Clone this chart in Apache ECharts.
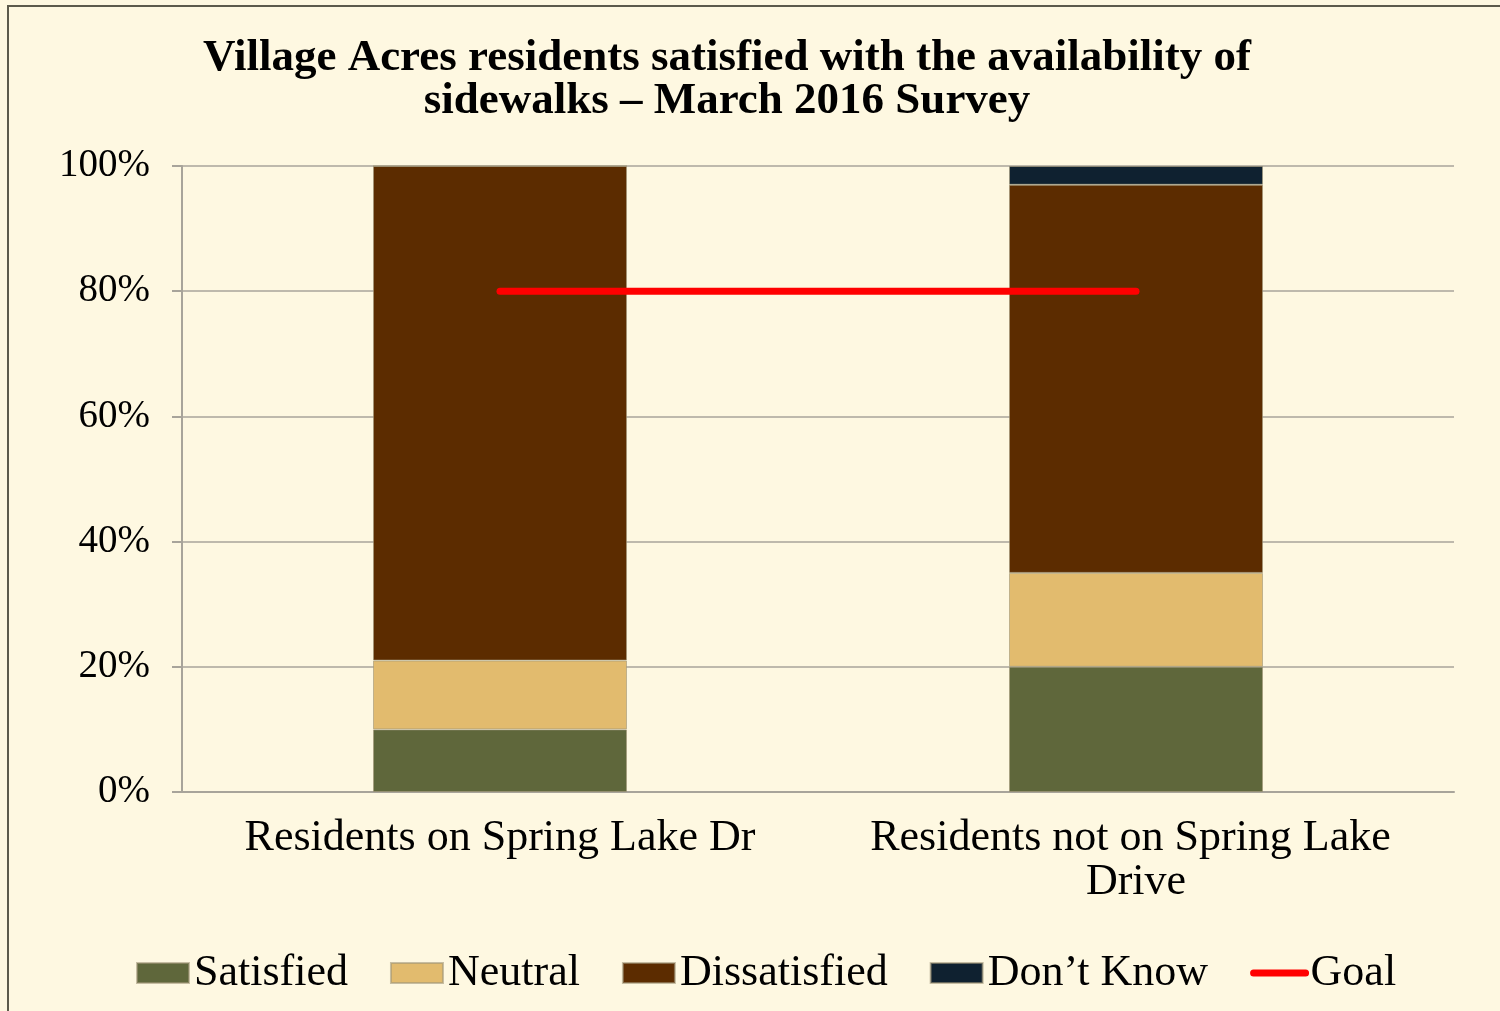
<!DOCTYPE html>
<html>
<head>
<meta charset="utf-8">
<script src="https://cdn.jsdelivr.net/npm/echarts@6/dist/echarts.min.js"></script>
<style>
  html, body { margin: 0; padding: 0; background: #fef8e1; }
  #main { width: 1500px; height: 1011px; }
</style>
</head>
<body>
<div id="main"></div>
<script>
// chart data
var categories = ["Residents on Spring Lake Dr", "Residents not on Spring Lake Drive"];
var satisfied = [10, 20];
var neutral = [11, 15];
var dissatisfied = [79, 62];
var dontKnow = [0, 3];
var goal = [80, 80];
var yTicks = [0, 20, 40, 60, 80, 100];

var serif = "Liberation Serif";
var chart = echarts.init(document.getElementById("main"));

function barSeries(name, data, color) {
  return {
    name: name,
    type: "bar",
    stack: "total",
    data: data,
    barWidth: 254,
    itemStyle: {
      color: color,
      borderColor: "rgba(160,150,120,0.6)",
      borderWidth: 1
    }
  };
}

chart.setOption({
  backgroundColor: "#fef8e1",
  textStyle: { fontFamily: serif },
  // outer frame
  graphic: [{
    type: "rect",
    shape: { x: 8, y: 6, width: 1600, height: 1100 },
    style: { fill: "none", stroke: "#5c5a4c", lineWidth: 2 }
  }],
  title: {
    text: "Village Acres residents satisfied with the availability of\nsidewalks \u2013 March 2016 Survey",
    left: 722,
    textAlign: "center",
    top: 32,
    textStyle: {
      fontFamily: serif,
      fontWeight: "bold",
      fontSize: 45,
      lineHeight: 43,
      color: "#000"
    }
  },
  legend: {
    left: 131,
    top: 946,
    itemWidth: 52,
    itemHeight: 20,
    itemGap: 42,
    textStyle: { fontFamily: serif, fontSize: 44, color: "#000" },
    data: [
      { name: "Satisfied", icon: "rect" },
      { name: "Neutral", icon: "rect" },
      { name: "Dissatisfied", icon: "rect" },
      { name: "Don\u2019t Know", icon: "rect" },
      { name: "Goal", itemStyle: { opacity: 0 }, lineStyle: { width: 7, cap: "round", color: "#ff0000" } }
    ]
  },
  grid: { left: 182, right: 46, top: 166, bottom: 219 },
  xAxis: {
    type: "category",
    data: categories,
    axisLine: { lineStyle: { color: "#a8a49a", width: 2 } },
    axisTick: { length: 9, lineStyle: { color: "#a8a49a", width: 2 } },
    axisLabel: {
      interval: 0,
      margin: 24,
      fontFamily: serif,
      fontSize: 44,
      lineHeight: 44,
      color: "#000",
      width: 580,
      overflow: "break"
    }
  },
  yAxis: {
    type: "value",
    min: yTicks[0],
    max: yTicks[yTicks.length - 1],
    interval: 20,
    axisLine: { show: true, lineStyle: { color: "#a8a49a", width: 2 } },
    axisTick: { show: true, length: 10, lineStyle: { color: "#a8a49a", width: 2 } },
    splitLine: { lineStyle: { color: "#a8a49a", width: 1.5 } },
    axisLabel: {
      margin: 32,
      fontFamily: serif,
      fontSize: 39,
      color: "#000",
      formatter: "{value}%"
    }
  },
  series: [
    barSeries("Satisfied", satisfied, "#5f673b"),
    barSeries("Neutral", neutral, "#e2bb6e"),
    barSeries("Dissatisfied", dissatisfied, "#5c2c00"),
    barSeries("Don\u2019t Know", dontKnow, "#0f2130"),
    {
      name: "Goal",
      type: "line",
      data: goal,
      symbol: "none",
      color: "#ff0000",
      lineStyle: { color: "#ff0000", width: 7, cap: "round" },
      z: 5
    }
  ]
});
</script>
</body>
</html>
